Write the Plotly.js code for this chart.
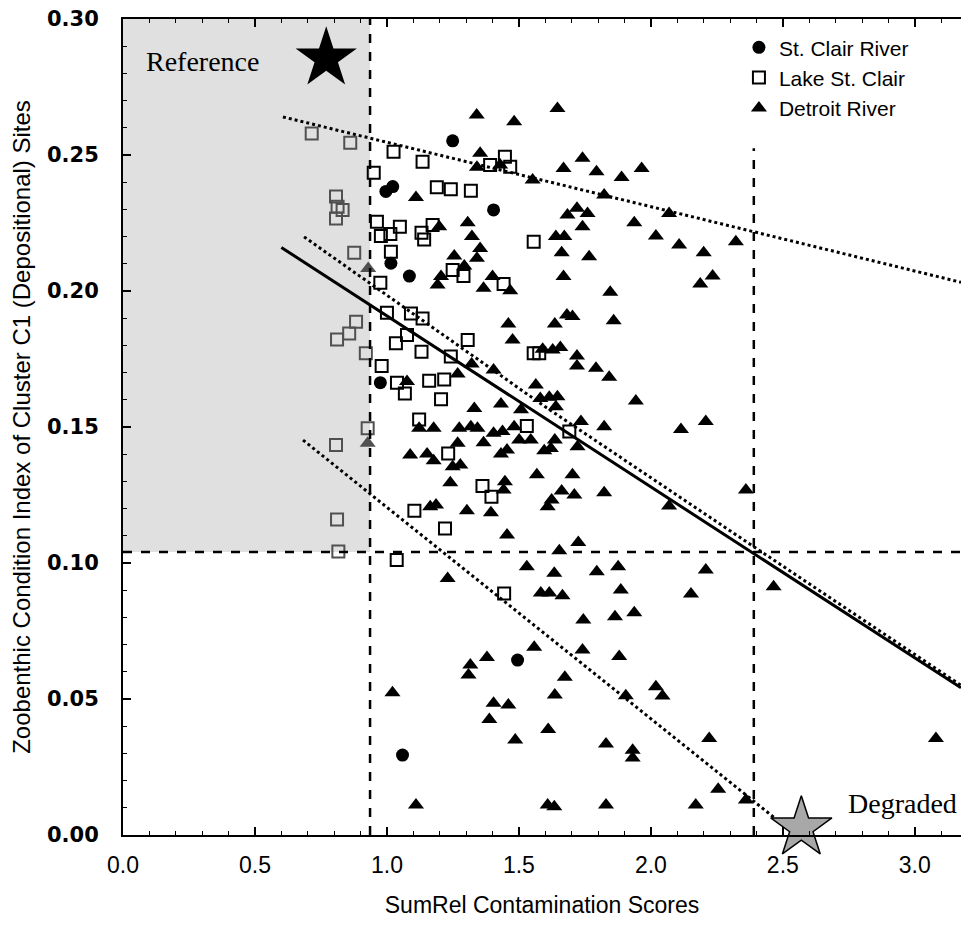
<!DOCTYPE html>
<html>
<head>
<meta charset="utf-8">
<script src="https://cdn.plot.ly/plotly-3.0.1.min.js"></script>
<style>html,body{margin:0;padding:0;background:#fff;}#chart{width:961px;height:926px;}</style>
</head>
<body>
<div id="chart"></div>
<script>
// ---- Data ----
const stClairX = [1.249, 0.996, 1.022, 1.404, 1.015, 1.085, 0.975, 1.495, 1.059];
const stClairY = [0.2552, 0.2366, 0.2384, 0.2298, 0.2102, 0.2055, 0.1663, 0.0643, 0.0294];

const lakeX = [
  1.025,1.135,0.950,1.189,1.242,1.318,1.391,1.447,1.467,0.962,0.977,1.013,1.049,1.131,1.141,1.173,1.556,1.015,1.249,1.290,1.442,0.975,
  1.000,1.091,1.135,1.076,1.034,1.306,1.131,1.242,0.980,1.038,1.068,1.160,1.217,1.205,1.122,1.556,1.577,1.530,1.691,1.232,1.362,1.396,1.104,1.220,
  1.037,1.444,
  0.715,0.861,0.807,0.813,0.832,0.807,0.876,0.883,0.857,0.811,0.920,0.927,0.807,0.811,0.816];
const lakeY = [
  0.2512,0.2475,0.2435,0.2381,0.2374,0.2369,0.2463,0.2494,0.2457,0.2255,0.2202,0.2210,0.2236,0.2214,0.2189,0.2243,0.2181,0.2144,0.2077,0.2055,0.2026,0.2030,
  0.1920,0.1917,0.1899,0.1838,0.1808,0.1820,0.1777,0.1759,0.1724,0.1663,0.1623,0.1670,0.1675,0.1602,0.1528,0.1771,0.1771,0.1504,0.1483,0.1403,0.1283,0.1244,0.1192,0.1127,
  0.1011,0.0888,
  0.2579,0.2545,0.2347,0.2310,0.2298,0.2267,0.2141,0.1887,0.1844,0.1822,0.1771,0.1495,0.1434,0.1160,0.1042];

const detroitX = [1.340,1.482,1.646,1.353,1.341,1.429,1.741,1.669,1.794,1.889,1.552,1.823,1.110,1.306,1.322,1.353,1.341,1.255,1.293,1.205,1.192,1.198,1.400,1.366,1.467,1.684,1.720,1.760,1.741,1.640,1.672,1.662,1.766,1.669,1.846,
  0.929,0.927,
  1.460,1.476,1.636,1.682,1.703,1.859,1.590,1.628,1.657,1.720,1.720,1.792,1.842,1.321,1.268,1.404,1.076,1.564,1.581,1.615,1.646,1.640,1.331,1.432,1.508,1.735,1.823,
  1.122,1.177,1.274,1.318,1.343,1.404,1.438,1.482,1.501,1.545,1.268,1.366,1.636,1.596,1.621,1.722,1.432,1.455,1.088,1.152,1.177,1.249,1.278,1.568,1.703,1.240,1.447,1.442,
  1.662,1.710,1.823,1.624,1.609,1.164,1.186,1.303,1.394,1.455,1.725,1.653,1.530,1.634,1.795,1.876,1.230,1.886,1.583,1.615,1.665,
  1.744,1.864,1.558,1.741,1.880,1.379,1.316,1.309,1.674,1.636,1.021,1.404,1.460,1.388,1.611,1.486,1.830,1.110,1.609,1.634,1.830,
  2.114,2.208,2.360,2.069,2.208,2.152,1.937,2.465,2.019,2.044,1.905,2.221,1.931,1.931,3.080,2.255,2.360,2.170,
  1.965,2.069,1.937,2.019,2.107,2.200,2.322,2.234,2.187,1.943];
const detroitY = [0.2647,0.2622,0.2671,0.2506,0.2455,0.2463,0.2488,0.2450,0.2438,0.2417,0.2408,0.2353,0.2344,0.2251,0.2200,0.2156,0.2120,0.2129,0.2092,0.2053,0.2022,0.2236,0.2053,0.2010,0.2001,0.2279,0.2304,0.2285,0.2236,0.2200,0.2200,0.2141,0.2126,0.2053,0.1995,
  0.2083,0.1440,
  0.1879,0.1820,0.1879,0.1912,0.1906,0.1891,0.1786,0.1783,0.1792,0.1761,0.1724,0.1716,0.1683,0.1732,0.1695,0.1710,0.1667,0.1654,0.1605,0.1609,0.1611,0.1574,0.1568,0.1585,0.1563,0.1520,0.1501,
  0.1495,0.1495,0.1495,0.1501,0.1495,0.1477,0.1483,0.1501,0.1452,0.1452,0.1440,0.1442,0.1452,0.1413,0.1421,0.1427,0.1401,0.1415,0.1397,0.1401,0.1376,0.1354,0.1360,0.1324,0.1324,0.1295,0.1299,0.1268,
  0.1265,0.1250,0.1258,0.1232,0.1207,0.1207,0.1213,0.1192,0.1185,0.1103,0.1075,0.1045,0.0986,0.0962,0.0968,0.0986,0.0943,0.0901,0.0890,0.0890,0.0880,
  0.0790,0.0802,0.0690,0.0680,0.0656,0.0653,0.0625,0.0588,0.0580,0.0515,0.0523,0.0484,0.0478,0.0425,0.0388,0.0349,0.0335,0.0110,0.0110,0.0104,0.0110,
  0.1491,0.1520,0.1268,0.1210,0.0974,0.0886,0.0817,0.0913,0.0545,0.0511,0.0512,0.0355,0.0312,0.0283,0.0355,0.0168,0.0129,0.0110,
  0.2450,0.2285,0.2251,0.2202,0.2169,0.2141,0.2181,0.2055,0.2026,0.1596];

// Regression line and bounds (end points)
const fitX = [0.60, 3.175];
const fitY = [0.2160, 0.0541];
const upperX = [0.606, 3.175];
const upperY = [0.2640, 0.2032];
const bandX = [0.686, 1.60, 2.39, 3.175];
const bandY = [0.2199, 0.1574, 0.1060, 0.0550];
const lowerX = [0.682, 2.47];
const lowerY = [0.1452, 0.0062];

// Anchors
const refStar = {x: 0.77, y: 0.2855};
const degStar = {x: 2.57, y: 0.0026};
const thresholdX1 = 0.936;
const thresholdX2 = 2.39;
const thresholdY = 0.104;
const xTicks = [0, 0.5, 1.0, 1.5, 2.0, 2.5, 3.0];
const yTicks = [0, 0.05, 0.10, 0.15, 0.20, 0.25, 0.30];

const dotted = {color: 'black', width: 3, dash: 'dot'};
// points inside the shaded "reference" box look faded in the print
const inBox = (x, y) => x < thresholdX1 && y > thresholdY;
const lakeColors = lakeX.map((x, i) => inBox(x, lakeY[i]) ? '#505050' : 'black');
const detroitColors = detroitX.map((x, i) => inBox(x, detroitY[i]) ? '#505050' : 'black');

const traces = [
  {x: fitX, y: fitY, mode: 'lines', line: {color: 'black', width: 3}, showlegend: false, hoverinfo: 'skip'},
  {x: upperX, y: upperY, mode: 'lines', line: dotted, showlegend: false, hoverinfo: 'skip'},
  {x: bandX, y: bandY, mode: 'lines', line: dotted, showlegend: false, hoverinfo: 'skip'},
  {x: lowerX, y: lowerY, mode: 'lines', line: dotted, showlegend: false, hoverinfo: 'skip'},
  {x: detroitX, y: detroitY, mode: 'markers', name: 'Detroit River',
   marker: {symbol: 'triangle-up', size: 14, color: detroitColors}},
  {x: lakeX, y: lakeY, mode: 'markers', name: 'Lake St. Clair',
   marker: {symbol: 'square-open', size: 12, color: lakeColors, line: {width: 2}}},
  {x: stClairX, y: stClairY, mode: 'markers', name: 'St. Clair River',
   marker: {symbol: 'circle', size: 13, color: 'black'}},
  {x: [refStar.x], y: [refStar.y], mode: 'markers', showlegend: false, cliponaxis: false,
   marker: {symbol: 'star', size: 46, color: 'black'}},
  {x: [degStar.x], y: [degStar.y], mode: 'markers', showlegend: false, cliponaxis: false,
   marker: {symbol: 'star', size: 46, color: '#a8a8a8', line: {color: 'black', width: 1.5}}}
];

const layout = {
  width: 961, height: 926,
  margin: {l: 123, r: 0, t: 19, b: 91},
  paper_bgcolor: 'white', plot_bgcolor: 'white',
  font: {family: 'Liberation Sans, Arial, sans-serif', color: 'black'},
  showlegend: true,
  legend: {
    x: 0.735, y: 0.99, xanchor: 'left', yanchor: 'top',
    traceorder: 'reversed', bgcolor: 'rgba(0,0,0,0)',
    font: {family: 'Liberation Sans, Arial, sans-serif', size: 21, color: 'black'},
    itemwidth: 30, tracegroupgap: 0
  },
  xaxis: {
    range: [0, 3.175], showgrid: false, zeroline: false,
    showline: true, linecolor: 'black', linewidth: 2, mirror: 'ticks',
    ticks: 'inside', ticklen: 8, tickwidth: 1.5, tickcolor: 'black',
    tickvals: xTicks, ticktext: xTicks.map(v => v.toFixed(1)),
    minor: {dtick: 0.1, tick0: 0, ticks: 'inside', ticklen: 4, tickcolor: 'black', tickwidth: 1},
    tickfont: {family: 'Liberation Sans, Arial, sans-serif', size: 23, color: 'black'},
    ticklabelstandoff: 8,
    title: {text: 'SumRel Contamination Scores', standoff: 20,
            font: {family: 'Liberation Sans, Arial, sans-serif', size: 23, color: 'black'}}
  },
  yaxis: {
    range: [0, 0.30], showgrid: false, zeroline: false,
    showline: true, linecolor: 'black', linewidth: 2, mirror: false,
    ticks: 'inside', ticklen: 8, tickwidth: 1.5, tickcolor: 'black',
    tickvals: yTicks, ticktext: yTicks.map(v => v.toFixed(2)),
    minor: {dtick: 0.01, tick0: 0, ticks: 'inside', ticklen: 4, tickcolor: 'black', tickwidth: 1},
    tickfont: {family: 'DejaVu Sans, Verdana, sans-serif', size: 21, color: 'black', weight: 'bold'},
    ticklabelstandoff: 18,
    title: {text: 'Zoobenthic Condition Index of Cluster C1 (Depositional) Sites', standoff: 10,
            font: {family: 'Liberation Sans, Arial, sans-serif', size: 24, color: 'black'}}
  },
  shapes: [
    {type: 'rect', xref: 'x', yref: 'y', x0: 0, x1: thresholdX1, y0: thresholdY, y1: 0.30,
     fillcolor: '#e0e0e0', line: {width: 0}, layer: 'below'},
    {type: 'line', xref: 'x', yref: 'y', x0: thresholdX1, x1: thresholdX1, y0: 0, y1: 0.30,
     line: {color: 'black', width: 2.5, dash: 'dash'}},
    {type: 'line', xref: 'x', yref: 'y', x0: thresholdX2, x1: thresholdX2, y0: 0, y1: 0.2525,
     line: {color: 'black', width: 2.5, dash: 'dash'}},
    {type: 'line', xref: 'x', yref: 'y', x0: 0, x1: 3.175, y0: thresholdY, y1: thresholdY,
     line: {color: 'black', width: 2.5, dash: 'dash'}}
  ],
  annotations: [
    {x: 0.303, y: 0.2842, xref: 'x', yref: 'y', text: 'Reference', showarrow: false,
     font: {family: 'Liberation Serif, Times New Roman, serif', size: 28, color: 'black'}},
    {x: 2.739, y: 0.0115, xref: 'x', yref: 'y', xanchor: 'left', text: 'Degraded', showarrow: false,
     font: {family: 'Liberation Serif, Times New Roman, serif', size: 28, color: 'black'}}
  ]
};

Plotly.newPlot('chart', traces, layout, {displayModeBar: false, staticPlot: true});
</script>
</body>
</html>
